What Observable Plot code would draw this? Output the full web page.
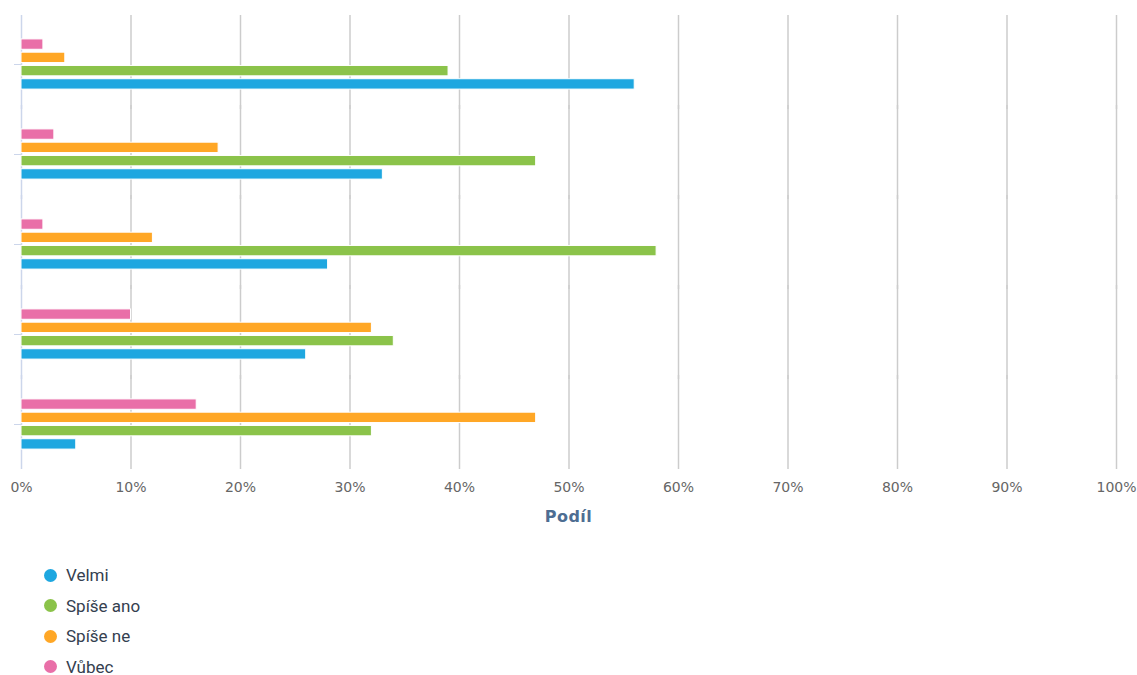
<!DOCTYPE html>
<html>
<head>
<meta charset="utf-8">
<script src="https://cdn.jsdelivr.net/npm/d3@7"></script>
<script src="https://cdn.jsdelivr.net/npm/@observablehq/plot@0.6"></script>
<style>
  body { margin: 0; background: #fff; font-family: "DejaVu Sans", sans-serif; overflow: hidden; }
  #chart svg { display: block; }
  [aria-label^="fy-axis"] { color: #ccd6eb; }
  #xlabel { width: 1137px; text-align: center; font: bold 16px "DejaVu Sans", sans-serif; letter-spacing: 0.5px; color: #4d6d92; height: 24px; line-height: 24px; }
  #legend { padding-left: 44px; padding-top: 31px; }
  .item { display: flex; align-items: center; height: 30.5px; font: 17px Roboto, sans-serif; color: #34404f; }
  .dot { width: 13px; height: 13px; border-radius: 50%; margin-right: 9px; }
</style>
</head>
<body>
<div id="chart"></div>
<div id="xlabel"></div>
<div id="legend"></div>
<script>
const categories = ["1", "2", "3", "4", "5"];
const series = ["Velmi", "Spíše ano", "Spíše ne", "Vůbec"];
const velmi    = [56, 33, 28, 26, 5];
const spiseAno = [39, 47, 58, 34, 32];
const spiseNe  = [4, 18, 12, 32, 47];
const vubec    = [2, 3, 2, 10, 16];
const colors = ["#1ea7e0", "#8bc34a", "#ffa726", "#e96fa8"];
const xTicks = [0, 10, 20, 30, 40, 50, 60, 70, 80, 90, 100];
const xTitle = "Podíl";

const valuesBySeries = [velmi, spiseAno, spiseNe, vubec];
const data = [];
categories.forEach((c, i) => {
  series.forEach((s, j) => data.push({category: c, series: s, value: valuesBySeries[j][i]}));
});

const chart = Plot.plot({
  width: 1137,
  height: 505,
  marginLeft: 21,
  marginRight: 21,
  marginTop: 19,
  marginBottom: 36,
  style: {color: "#666", fontSize: "14px", fontFamily: "DejaVu Sans, sans-serif", background: "#fff"},
  x: {domain: [0, 100], ticks: xTicks, tickFormat: d => d + "%", tickSize: 0, tickPadding: 13, label: null},
  y: {domain: [...series].reverse(), paddingInner: 0.22, paddingOuter: 1.5, round: false, axis: null},
  fy: {domain: categories, padding: 0, round: false, axis: "left", tickSize: 7, tickFormat: () => "", label: null},
  color: {domain: series, range: colors},
  marks: [
    Plot.ruleX(xTicks.slice(1), {stroke: "#cccccc", strokeWidth: 1.5, insetTop: -4}),
    Plot.ruleX([0], {stroke: "#ccd6eb", strokeWidth: 1.5, insetTop: -4}),
    Plot.barX(data, {x: "value", y: "series", fy: "category", fill: "series", stroke: "white", strokeWidth: 1})
  ]
});
document.getElementById("chart").appendChild(chart);
document.getElementById("xlabel").textContent = xTitle;

const legend = document.getElementById("legend");
series.forEach((s, i) => {
  const it = document.createElement("div");
  it.className = "item";
  const dot = document.createElement("span");
  dot.className = "dot";
  dot.style.background = colors[i];
  const t = document.createElement("span");
  t.textContent = s;
  it.appendChild(dot); it.appendChild(t);
  legend.appendChild(it);
});
</script>
</body>
</html>
